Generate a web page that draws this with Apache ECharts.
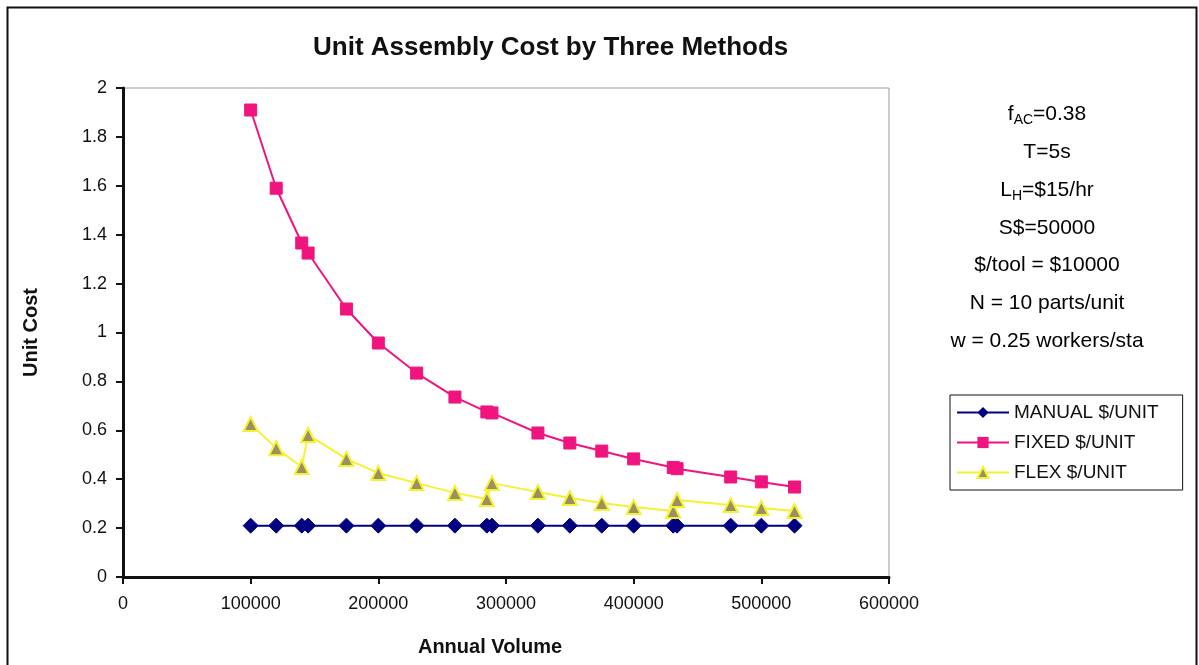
<!DOCTYPE html>
<html>
<head>
<meta charset="utf-8">
<script src="https://cdn.jsdelivr.net/npm/echarts@6/dist/echarts.min.js"></script>
<style>
html,body{margin:0;padding:0;background:#fff;}
#chart{width:1199px;height:665px;}
</style>
</head>
<body>
<div id="chart"></div>
<script>
var titleText = 'Unit Assembly Cost by Three Methods';
var xAxisName = 'Annual Volume';
var yAxisName = 'Unit Cost';
var seriesNames = ['MANUAL $/UNIT', 'FIXED $/UNIT', 'FLEX $/UNIT'];
var volumes    = [100000, 120000, 140000, 145000, 175000, 200000, 230000, 260000, 285000, 289000, 325000, 350000, 375000, 400000, 431000, 434000, 476000, 500000, 526000];
var manualCost = [0.21, 0.21, 0.21, 0.21, 0.21, 0.21, 0.21, 0.21, 0.21, 0.21, 0.21, 0.21, 0.21, 0.21, 0.21, 0.21, 0.21, 0.21, 0.21];
var fixedCost  = [1.91, 1.59, 1.366, 1.325, 1.096, 0.957, 0.834, 0.736, 0.675, 0.671, 0.589, 0.548, 0.515, 0.483, 0.448, 0.443, 0.409, 0.389, 0.368];
var flexCost   = [0.626, 0.527, 0.45, 0.581, 0.483, 0.425, 0.384, 0.344, 0.319, 0.384, 0.348, 0.323, 0.303, 0.286, 0.27, 0.315, 0.294, 0.282, 0.27];
var annotations = [
  '{n|f}{s|AC}{n|=0.38}',
  '{n|T=5s}',
  '{n|L}{s|H}{n|=$15/hr}',
  '{n|S$=50000}',
  '{n|$/tool = $10000}',
  '{n|N = 10 parts/unit}',
  '{n|w = 0.25 workers/sta}'
];

function pairs(ys){ return volumes.map(function(v,i){ return [v, ys[i]]; }); }

var FONT = 'Liberation Sans, Arial, sans-serif';
var chart = echarts.init(document.getElementById('chart'));

var graphics = [{
  type: 'rect', left: 5, top: 5, silent: true,
  shape: {width: 1189, height: 700},
  style: {fill: 'none', stroke: '#111', lineWidth: 2}
}];
annotations.forEach(function(t, i){
  graphics.push({
    type: 'text', silent: true,
    x: 1047, top: 104 + i * 37.8,
    style: {
      text: t, x: 0, textAlign: 'center',
      rich: {
        n: {fontFamily: FONT, fontSize: 21, color: '#111', lineHeight: 26, verticalAlign: 'middle'},
        s: {fontFamily: FONT, fontSize: 14, color: '#111', lineHeight: 26, verticalAlign: 'bottom', padding: [8, 0, 0, 0]}
      }
    }
  });
});

var option = {
  backgroundColor: '#fff',
  animation: false,
  title: {
    text: titleText, left: 313, top: 35, padding: 0,
    textStyle: {fontFamily: FONT, fontSize: 26, fontWeight: 'bold', color: '#111'}
  },
  grid: {
    left: 123, top: 88, width: 766, height: 489,
    show: true, borderColor: '#999', borderWidth: 1, backgroundColor: '#fff'
  },
  legend: {
    orient: 'vertical', left: 950, top: 395,
    data: seriesNames,
    itemWidth: 52, itemHeight: 14, itemGap: 11,
    padding: [8, 24, 8, 6],
    borderColor: '#111', borderWidth: 1,
    textStyle: {fontFamily: FONT, fontSize: 19, color: '#111'}
  },
  xAxis: {
    type: 'value', min: 0, max: 600000, interval: 100000,
    name: xAxisName, nameLocation: 'middle', nameGap: 60,
    nameTextStyle: {fontFamily: FONT, fontSize: 20, fontWeight: 'bold', color: '#111', padding: [0, 32, 0, 0]},
    axisLine: {lineStyle: {color: '#111', width: 3}},
    axisTick: {show: true, length: 7, lineStyle: {color: '#111', width: 2}},
    axisLabel: {fontFamily: FONT, fontSize: 18, color: '#111', margin: 18,
      formatter: function(v){ return String(v); }},
    splitLine: {show: false}
  },
  yAxis: {
    type: 'value', min: 0, max: 2, interval: 0.2,
    name: yAxisName, nameLocation: 'middle', nameGap: 82,
    nameTextStyle: {fontFamily: FONT, fontSize: 20, fontWeight: 'bold', color: '#111'},
    axisLine: {show: true, lineStyle: {color: '#111', width: 3}},
    axisTick: {show: true, length: 7, lineStyle: {color: '#111', width: 2}},
    axisLabel: {fontFamily: FONT, fontSize: 18, color: '#111', margin: 16,
      formatter: function(v){ return String(Math.round(v*10)/10); }},
    splitLine: {show: false}
  },
  series: [
    {
      name: seriesNames[0], type: 'line', data: pairs(manualCost),
      symbol: 'diamond', symbolSize: 15,
      lineStyle: {color: '#000080', width: 2},
      itemStyle: {color: '#000080', borderColor: '#000080'}
    },
    {
      name: seriesNames[1], type: 'line', data: pairs(fixedCost),
      symbol: 'rect', symbolSize: 12,
      lineStyle: {color: '#f0147f', width: 2},
      itemStyle: {color: '#f0147f', borderColor: '#f0147f'}
    },
    {
      name: seriesNames[2], type: 'line', data: pairs(flexCost),
      symbol: 'triangle', symbolSize: 14,
      lineStyle: {color: '#f4f234', width: 2},
      itemStyle: {color: '#9c9060', borderColor: '#f4f234', borderWidth: 2}
    }
  ],
  graphic: graphics
};
chart.setOption(option);
</script>
</body>
</html>
